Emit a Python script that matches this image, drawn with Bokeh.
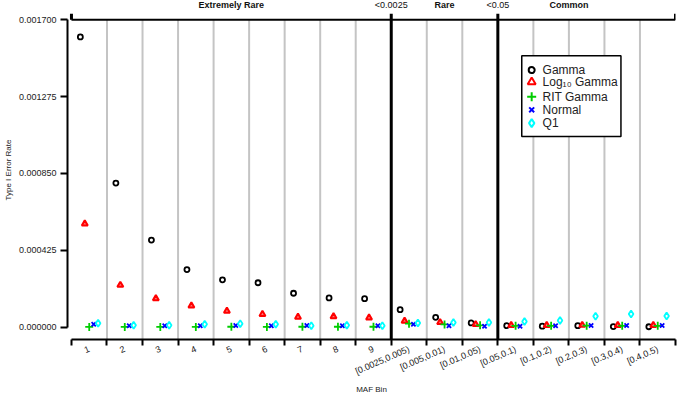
from bokeh.plotting import figure
from bokeh.models import Range1d, FixedTicker, PrintfTickFormatter
from bokeh.core.properties import value
from bokeh.embed import file_html
from bokeh.resources import INLINE

# ---------------- data ----------------
bin_labels = ["1", "2", "3", "4", "5", "6", "7", "8", "9",
              "[0.0025,0.005)", "[0.005,0.01)", "[0.01,0.05)",
              "[0.05,0.1)", "[0.1,0.2)", "[0.2,0.3)", "[0.3,0.4)", "[0.4,0.5)"]
gamma = [0.001605, 0.000797, 0.000482, 0.000319, 0.000262, 0.000246, 0.000188, 0.000162, 0.000158,
         0.000097, 0.000055, 0.000024, 0.000009, 0.000006, 0.000009, 0.000004, 0.000003]
log10_gamma = [0.000572, 0.000233, 0.000159, 0.000119, 0.000090, 0.0000715, 0.000057, 0.000060, 0.000053,
               0.000035, 0.000027, 0.000016, 0.000011, 0.000011, 0.000012, 0.000011, 0.000011]
rit_gamma = [0.000002, 0.000002, 0.000002, 0.000002, 0.000003, 0.000002, 0.000003, 0.000003, 0.000003,
             0.000020, 0.000016, 0.000011, 0.000008, 0.000008, 0.000009, 0.000008, 0.000008]
normal = [0.000017, 0.000008, 0.000008, 0.000008, 0.000010, 0.000008, 0.000010, 0.000008, 0.000008,
          0.000017, 0.000009, 0.000006, 0.000006, 0.000009, 0.000010, 0.000010, 0.000010]
q1 = [0.000022, 0.000011, 0.000011, 0.000017, 0.000019, 0.000017, 0.000009, 0.000011, 0.000009,
      0.000024, 0.000027, 0.000027, 0.000032, 0.000038, 0.000061, 0.000074, 0.000062]
series_names = ["Gamma", "Log\u2081\u2080 Gamma", "RIT Gamma", "Normal", "Q1"]
y_ticks = [0.0, 0.000425, 0.00085, 0.001275, 0.0017]
group_names = ["Extremely Rare", "Rare", "Common"]
group_pos = [4.5, 10.5, 14.0]
cut_labels = ["<0.0025", "<0.05"]
cut_pos = [9, 12]

# ---------------- layout (canvas pixels) ----------------
W, H = 677, 396
FX0, FX1 = 62, 675          # frame left / right
FY1 = 341                   # frame bottom (frame top = 0)
X0_PX = 66                  # pixel of bin boundary 0
n_bins = len(bin_labels)
BIN_PX = (FX1 - X0_PX) / n_bins
Y0_PX, YTOP_PX = 328.7, 19.3
y_top = y_ticks[-1]
S = y_top / (Y0_PX - YTOP_PX)


def px_x(cx):
    return (cx - X0_PX) / BIN_PX


def px_y(cy):
    return (Y0_PX - cy) * S


FONT = "Liberation Sans"

p = figure(width=W, height=H, output_backend="svg", toolbar_location=None,
           x_range=Range1d(px_x(FX0), float(n_bins)), y_range=Range1d(px_y(FY1), px_y(0)),
           min_border_left=FX0, min_border_right=W - FX1, min_border_top=0,
           min_border_bottom=H - FY1)
p.outline_line_color = None
p.xgrid.visible = False
p.ygrid.visible = False
p.background_fill_color = "white"
p.border_fill_color = "white"

y_bot = px_y(FY1)
y_tick_top = px_y(YTOP_PX - 6)

# bin separators
thin = [k for k in range(1, n_bins) if k not in cut_pos]
p.segment(x0=thin, y0=[y_bot] * len(thin), x1=thin, y1=[y_top] * len(thin),
          line_color="#C4C4C4", line_width=2)
edges = [0] + cut_pos + [n_bins]
p.segment(x0=cut_pos, y0=[y_bot] * len(cut_pos), x1=cut_pos, y1=[y_top] * len(cut_pos),
          line_color="black", line_width=3)
p.segment(x0=edges, y0=[y_top] * len(edges), x1=edges, y1=[y_tick_top] * len(edges),
          line_color="black", line_width=3)
# top rule
p.segment(x0=[0], y0=[y_top], x1=[n_bins], y1=[y_top], line_color="black", line_width=2)

# data
centers = [i + 0.5 for i in range(n_bins)]
series = [
    (gamma, "circle", "black", -0.25, 5, 1.8, None),
    (log10_gamma, "triangle", "#FF0000", -0.125, 6, 2.0, "#FF0000"),
    (rit_gamma, "cross", "#00CD00", 0.0, 8, 1.8, None),
    (normal, "x", "#0000FF", 0.125, 6, 1.8, None),
    (q1, "diamond", "#00FFFF", 0.25, 7, 1.8, None),
]
for vals, marker, color, off, size, lw, fill in series:
    p.scatter([c + off for c in centers], vals, marker=marker, size=size,
              fill_color=fill, fill_alpha=0.55, line_color=color, line_width=lw)

# header texts
p.text(x=group_pos, y=[px_y(4.5)] * len(group_pos), text=group_names,
       text_font=value(FONT), text_font_size=value("9px"), text_font_style="bold",
       text_align="center", text_baseline="middle", text_color="#111111")
p.text(x=cut_pos, y=[px_y(4.5)] * len(cut_pos), text=cut_labels,
       text_font=value(FONT), text_font_size=value("9px"),
       text_align="center", text_baseline="middle", text_color="#111111")

# legend (drawn manually for marker size control)
p.quad(left=[px_x(520)], right=[px_x(620)], top=[px_y(55.7)], bottom=[px_y(136.7)],
       fill_color="white", line_color="black", line_width=1.5)
rows = [70, 82, 96.7, 110, 123.3]
leg_sizes = [6, 8, 9, 7, 8]
for (vals, marker, color, off, size, lw, fill), ry, ls in zip(series, rows, leg_sizes):
    p.scatter([px_x(530)], [px_y(ry)], marker=marker, size=ls, fill_color=None,
              line_color=color, line_width=2)
p.text(x=[px_x(541)] * len(rows), y=[px_y(r) for r in rows], text=series_names,
       text_font=value(FONT), text_font_size=value("12px"), text_align="left",
       text_baseline="middle", text_color="#222222")

# axes
xa = p.xaxis[0]
xa.ticker = FixedTicker(ticks=centers, minor_ticks=list(range(n_bins + 1)))
xa.major_label_overrides = {c: lab for c, lab in zip(centers, bin_labels)}
xa.major_tick_out = 0
xa.major_tick_in = 0
xa.minor_tick_out = 6
xa.minor_tick_in = 0
xa.minor_tick_line_width = 2
xa.minor_tick_line_color = "black"
xa.axis_line_width = 2
xa.bounds = (0, n_bins)
xa.major_label_orientation = 0.41
xa.major_label_text_font = FONT
xa.major_label_text_font_size = "9px"
xa.major_label_text_color = "#222222"
xa.major_label_standoff = 3
xa.axis_label = "MAF Bin"
xa.axis_label_text_font = FONT
xa.axis_label_text_font_size = "8px"
xa.axis_label_text_font_style = "normal"
xa.axis_label_text_color = "#222222"
xa.axis_label_standoff = 1

ya = p.yaxis[0]
ya.ticker = FixedTicker(ticks=y_ticks)
ya.formatter = PrintfTickFormatter(format="%.6f")
ya.bounds = (0, y_top)
ya.axis_line_width = 2
ya.major_tick_line_width = 2
ya.major_tick_out = 7
ya.major_tick_in = 0
ya.minor_tick_out = 0
ya.minor_tick_in = 0
ya.major_label_standoff = 4
ya.major_label_text_font = FONT
ya.major_label_text_font_size = "9px"
ya.major_label_text_color = "#222222"
ya.axis_label = "Type I Error Rate"
ya.axis_label_text_font = FONT
ya.axis_label_text_font_size = "8px"
ya.axis_label_text_font_style = "normal"
ya.axis_label_text_color = "#222222"
ya.axis_label_standoff = 3

open("out.html", "w").write(file_html(p, INLINE))
